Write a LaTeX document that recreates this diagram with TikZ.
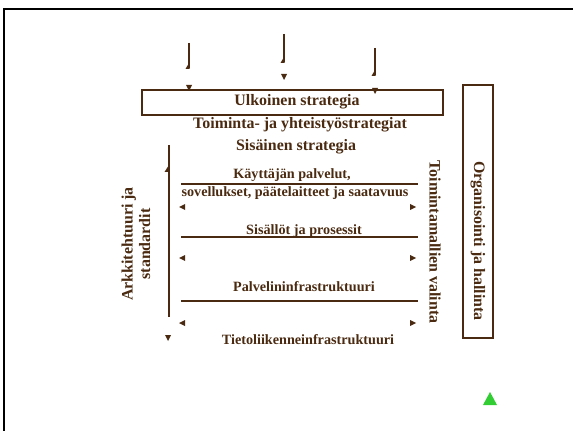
\documentclass[tikz,border=0pt]{standalone}
\usepackage{fontspec}
\setmainfont{Liberation Serif}
\definecolor{brn}{HTML}{4A2A10}
\definecolor{grn}{HTML}{32CD32}
\tikzset{
  rule/.style={brn, line width=1.6pt},
  wedge/.style={fill=brn},
  big/.style={text=brn, font=\fontsize{13.6}{15}\selectfont\bfseries, inner sep=0pt},
  small/.style={text=brn, font=\fontsize{12.1}{13.5}\selectfont\bfseries, inner sep=0pt},
}
\begin{document}
\begin{tikzpicture}[x=0.03cm,y=-0.03cm]
\useasboundingbox (0,0) rectangle (573,431);
% slide frame
\draw[black, line width=1.3pt] (4,433) -- (4,9) -- (575,9);

% arrows from outside
\foreach \x/\a/\b/\t in {189/43/68/89, 284/34/62/78, 375/48/75/92}{
  \draw[rule, line width=1.3pt] (\x,\a) -- (\x,\b);
  \fill[wedge] (\x+0.6,\b+1) -- (\x-3.5,\b+1) -- (\x+0.6,\b-6) -- cycle;
  \fill[wedge] (\x-3,\t-4) -- (\x+3,\t-4) -- (\x,\t+2) -- cycle;
}

% outer strategy box
\node[rule, draw, minimum width=9.03cm, minimum height=0.75cm] (ulkbox) at (292.5,102.5) {};
\node[big] (ulk) at (297,102) {Ulkoinen strategia};
\node[big] (toim) at (300,125) {Toiminta- ja yhteistyöstrategiat};
\node[big] (sis) at (296,147) {Sisäinen strategia};

% architecture axis
\draw[rule, line width=1.3pt] (169,145) -- (169,317);
\fill[wedge] (169.6,164) -- (164.5,172) -- (169.6,172) -- cycle;
\fill[wedge] (165,335) -- (171,335) -- (168,341) -- cycle;
\node[big, rotate=90, align=center] (ark) at (136,244) {Arkkitehtuuri ja\\standardit};

% layers
\node[small] (kayt) at (292,175) {Käyttäjän palvelut,};
\node[small] (sovel) at (295,193) {sovellukset, päätelaitteet ja saatavuus};
\node[small] (sisal) at (304,231) {Sisällöt ja prosessit};
\node[small] (palv) at (304,287) {Palvelininfrastruktuuri};
\node[small] (tieto) at (308,340) {Tietoliikenneinfrastruktuuri};
\foreach \y in {184,237,301}
  \draw[rule] (181,\y) -- (418,\y);
\foreach \y in {207,258,323}{
  \fill[wedge] (179,\y) -- (185,\y-3) -- (185,\y+3) -- cycle;
  \fill[wedge] (416,\y) -- (410,\y-3) -- (410,\y+3) -- cycle;
}
\node[big, rotate=-90] (tmv) at (435,242) {Toimintamallien valinta};

% organisation box
\node[rule, draw, minimum width=0.9cm, minimum height=7.59cm] (orgbox) at (478,211.5) {};
\node[big, rotate=-90] (org) at (478,241) {Organisointi ja hallinta};

\fill[grn] (483,405) -- (490,392) -- (497,405) -- cycle;
\end{tikzpicture}
\end{document}
